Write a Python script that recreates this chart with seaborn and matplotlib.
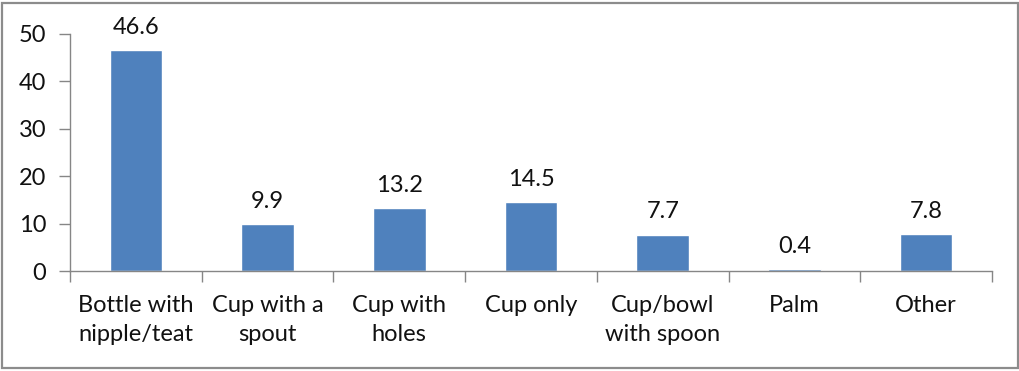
import matplotlib
matplotlib.use("Agg")
import matplotlib.pyplot as plt
import seaborn as sns
import pandas as pd
from matplotlib.patches import Rectangle

categories = ["Bottle with\nnipple/teat", "Cup with a\nspout", "Cup with\nholes", "Cup only",
              "Cup/bowl\nwith spoon", "Palm", "Other"]
values = [46.6, 9.9, 13.2, 14.5, 7.7, 0.4, 7.8]
yticks = [0, 10, 20, 30, 40, 50]

sns.set_theme(style="white")
plt.rcParams["font.family"] = ["Lato", "DejaVu Sans"]
text_color = "#111111"
axis_color = "#868686"
fs = 17

df = pd.DataFrame({"method": categories, "pct": values})

fig = plt.figure(figsize=(10.2, 3.71), dpi=100)
ax = fig.add_axes([70 / 1020, 100 / 371, 922 / 1020, 237 / 371])

sns.barplot(data=df, x="method", y="pct", color="#4F81BD", saturation=1,
            width=0.4, ax=ax)

ax.set_ylim(0, 50)
ax.set_xlim(-0.5, len(categories) - 0.5)
ax.set_yticks(yticks)
ax.set_yticklabels([str(t) for t in yticks], fontsize=fs, color=text_color)
ax.set_xlabel("")
ax.set_ylabel("")

# category boundary ticks on the x axis
ax.set_xticks([i - 0.5 for i in range(len(categories) + 1)], minor=False)
ax.set_xticklabels([])
ax.set_xticks(range(len(categories)), minor=True)
ax.set_xticklabels(categories, minor=True, fontsize=fs, color=text_color,
                   linespacing=1.5)
ax.tick_params(axis="x", which="major", direction="out", length=8, width=1,
               color=axis_color, bottom=True)
ax.tick_params(axis="x", which="minor", length=0, pad=17)
ax.tick_params(axis="y", direction="out", length=8, width=1, color=axis_color,
               left=True, pad=9)

for s in ["top", "right"]:
    ax.spines[s].set_visible(False)
for s in ["left", "bottom"]:
    ax.spines[s].set_color(axis_color)
    ax.spines[s].set_linewidth(1)

for i, v in enumerate(values):
    ax.annotate(f"{v}", (i, v), xytext=(0, 9), textcoords="offset points",
                ha="center", va="bottom", fontsize=fs, color=text_color)

# outer frame around the chart
fig.patches.append(Rectangle((2 / 1020, 3 / 371), 1016 / 1020, 365 / 371,
                             transform=fig.transFigure, fill=False,
                             edgecolor="#8c8c8c", linewidth=1.6))

fig.savefig("out.png", dpi=100)
